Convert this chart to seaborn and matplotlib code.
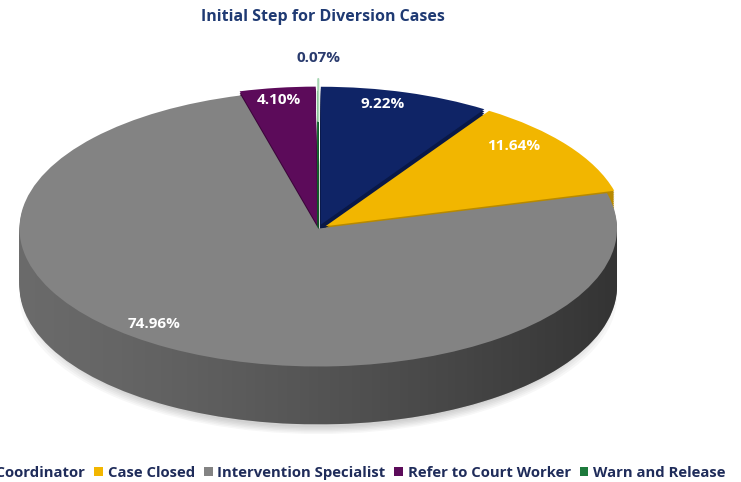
import matplotlib
matplotlib.use("Agg")
import matplotlib.pyplot as plt
import matplotlib.patches as mpatches
import numpy as np
import seaborn as sns

# data
categories = ["Diversion Coordinator", "Case Closed", "Intervention Specialist",
              "Refer to Court Worker", "Warn and Release"]
shares = [9.22, 11.64, 74.96, 4.10, 0.07]
top_colors = ["#0f2466", "#f2b600", "#838383", "#5c0b5a", "#1d7a3c"]
side_colors = ["#091847", "#b78900", "#6a6a6a", "#3b0539", "#0f5226"]
explode = [0.03, 0.03, 0.0, 0.03, 0.0]

sns.set_theme(style="white")
plt.rcParams["font.family"] = ["Open Sans", "DejaVu Sans"]

fig = plt.figure(figsize=(7.41, 4.82), dpi=100)
ax = fig.add_axes([-0.014, 0.068, 0.887, 0.801])

depth = 0.42
layers = 30

# faint drop shadow peeking out under the pie
for r in np.linspace(1.0, 0.95, 6):
    ax.add_patch(mpatches.Circle((0, -depth - 0.07), r, color="black",
                                 alpha=0.03, lw=0, zorder=0))

# side of the 3D pie: stacked copies pushed downward
for k in range(layers):
    off = depth * (1 - k / layers)
    ax.pie(shares, colors=side_colors, startangle=90, counterclock=False,
           explode=explode, center=(0, -off),
           wedgeprops=dict(linewidth=0))

# darken the side toward the right, like the lit 3D pie in the original
grad = np.zeros((2, 256, 4))
grad[..., 3] = np.linspace(0.0, 0.6, 256) ** 1.3
shade = ax.imshow(grad, extent=(-1.0, 1.0, -1 - depth, 0), aspect="auto",
                  zorder=1.5, interpolation="bilinear")
arc = np.linspace(0, -np.pi, 120)
side_outline = np.column_stack([
    np.concatenate([[-1, 1], np.cos(arc)]),
    np.concatenate([[0, 0], np.sin(arc) - depth]),
])
side_clip = mpatches.Polygon(side_outline, closed=True, transform=ax.transData)
shade.set_clip_path(side_clip)

# top face
labels_iter = iter(shares)
wedges, texts, autotexts = ax.pie(
    shares, colors=top_colors, startangle=90, counterclock=False,
    explode=explode, autopct=lambda p: f"{next(labels_iter):.2f}%", pctdistance=0.8,
    wedgeprops=dict(linewidth=0),
    textprops=dict(color="white", fontweight="bold", fontsize=11))
for w in wedges:
    w.set_zorder(2)
for t in autotexts:
    t.set_zorder(3)

# perspective in the original pushes the back labels up a little
for i in (0, 1, 3):
    x, y = autotexts[i].get_position()
    autotexts[i].set_position((x - 0.02, y + 0.11))
# big slice label sits further out to the left
autotexts[2].set_position((-0.55, -0.69))

# tiny slice label goes above the pie with a leader line
autotexts[4].set_visible(False)
ax.annotate("0.07%", xy=(0, 0.78), xytext=(0, 1.24), ha="center", va="center",
            color="#2a3b6e", fontweight="bold", fontsize=11, zorder=4,
            arrowprops=dict(arrowstyle="-", color="#a9d6b4", lw=1.5, shrinkA=8, shrinkB=0))

ax.set_aspect("auto")
ax.set_xlim(-1.1, 1.1)
ax.set_ylim(-1.6, 1.2)
ax.axis("off")

fig.text(0.436, 0.965, "Initial Step for Diversion Cases", ha="center", va="center",
         color="#1f3a73", fontweight="bold", fontsize=11.5)

leg = fig.legend(wedges, categories, loc="center right", bbox_to_anchor=(0.987, 0.019),
                 ncol=5, frameon=False, handlelength=0.6, handleheight=0.6,
                 handletextpad=0.3, columnspacing=0.6, borderaxespad=0,
                 prop=dict(weight="bold", size=10.7))
for t in leg.get_texts():
    t.set_color("#1f2c5a")

fig.savefig("out.png", dpi=100)
